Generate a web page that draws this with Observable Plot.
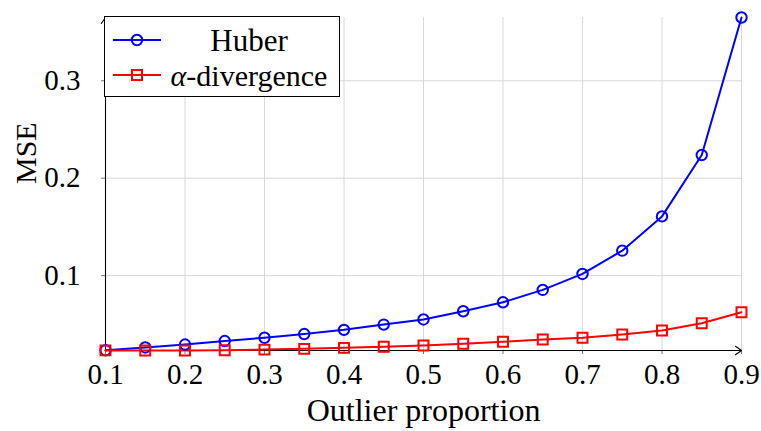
<!DOCTYPE html>
<html>
<head>
<meta charset="utf-8">
<script src="https://cdn.jsdelivr.net/npm/d3@7"></script>
<script src="https://cdn.jsdelivr.net/npm/@observablehq/plot@0.6"></script>
<style>
  html, body { margin: 0; padding: 0; background: white; }
  #wrap { position: relative; width: 761px; height: 431px; font-family: "Liberation Serif", serif; }
  #legend { position: absolute; left: 104px; top: 16px; width: 236px; height: 81px; border: 1.2px solid black; background: white; box-sizing: border-box; }
</style>
</head>
<body>
<div id="wrap"></div>
<script>
// Data
const proportion = [0.1, 0.15, 0.2, 0.25, 0.3, 0.35, 0.4, 0.45, 0.5, 0.55, 0.6, 0.65, 0.7, 0.75, 0.8, 0.85, 0.9];
const huber = [0.0233, 0.0262, 0.0292, 0.0328, 0.0362, 0.0400, 0.0443, 0.0497, 0.0550, 0.0634, 0.0726, 0.0853, 0.1017, 0.1256, 0.1608, 0.2238, 0.3650];
const alphaDiv = [0.0232, 0.0231, 0.0231, 0.0234, 0.0240, 0.0248, 0.0258, 0.0269, 0.0282, 0.0300, 0.0320, 0.0344, 0.0362, 0.0395, 0.0436, 0.0510, 0.0624];
const seriesNames = ["Huber", "α-divergence"];
const seriesColors = ["#0000ff", "#ff0000"];
const xTicks = [0.1, 0.2, 0.3, 0.4, 0.5, 0.6, 0.7, 0.8, 0.9];
const yTicks = [0.1, 0.2, 0.3];
const xLabel = "Outlier proportion";
const yLabel = "MSE";

const rows = [];
proportion.forEach((p, i) => {
  rows.push({p, v: huber[i], s: seriesNames[0]});
  rows.push({p, v: alphaDiv[i], s: seriesNames[1]});
});
const hRows = rows.filter(d => d.s === seriesNames[0]);
const aRows = rows.filter(d => d.s === seriesNames[1]);

const xDom = [d3.min(proportion), d3.max(proportion)];
const yDom = [d3.min([...huber, ...alphaDiv]), d3.max([...huber, ...alphaDiv])];

const chart = Plot.plot({
  width: 761,
  height: 431,
  marginLeft: 105,
  marginRight: 20,
  marginTop: 17,
  marginBottom: 81,
  style: {fontFamily: "'Liberation Serif', serif", fontSize: "29px", background: "white", color: "black", overflow: "visible"},
  x: {domain: xDom},
  y: {domain: yDom},
  marks: [
    Plot.gridX(xTicks, {stroke: "#d8d8d8", strokeOpacity: 1, strokeWidth: 1}),
    Plot.gridY(yTicks, {stroke: "#d8d8d8", strokeOpacity: 1, strokeWidth: 1}),
    Plot.axisX(xTicks, {tickFormat: d3.format(".1f"), tickSize: 4, tickPadding: 9, label: null, stroke: "#777", fontSize: 29}),
    Plot.axisY(yTicks, {tickFormat: d3.format(".1f"), tickSize: 4, tickPadding: 21, label: null, stroke: "#777", fontSize: 29}),
    Plot.arrow([0], {x1: () => xDom[0], x2: () => xDom[1], y1: () => yDom[0], y2: () => yDom[0], stroke: "black", strokeWidth: 1.1, headLength: 10, headAngle: 70, bend: 0}),
    Plot.arrow([0], {x1: () => xDom[0], x2: () => xDom[0], y1: () => yDom[0], y2: () => yDom[1], stroke: "black", strokeWidth: 1.1, headLength: 10, headAngle: 70, bend: 0}),
    Plot.line(hRows, {x: "p", y: "v", stroke: seriesColors[0], strokeWidth: 2}),
    Plot.line(aRows, {x: "p", y: "v", stroke: seriesColors[1], strokeWidth: 2}),
    Plot.dot(hRows, {x: "p", y: "v", symbol: "circle", r: 5.2, stroke: seriesColors[0], fill: "none", strokeWidth: 2}),
    Plot.dot(aRows, {x: "p", y: "v", symbol: "square", r: 5.6, stroke: seriesColors[1], fill: "none", strokeWidth: 2}),
    Plot.text([xLabel], {frameAnchor: "bottom", dy: 70, fontSize: 32, fill: "black"}),
    Plot.text([yLabel], {frameAnchor: "left", dx: -79, rotate: -90, fontSize: 30, fill: "black"})
  ]
});

const wrap = document.getElementById("wrap");
wrap.appendChild(chart);

// Legend
const legend = document.createElement("div");
legend.id = "legend";
const ns = "http://www.w3.org/2000/svg";
const lsvg = document.createElementNS(ns, "svg");
lsvg.setAttribute("width", 234);
lsvg.setAttribute("height", 79);
lsvg.style.display = "block";
const rowY = [23, 58];
seriesNames.forEach((name, i) => {
  const y = rowY[i];
  const line = document.createElementNS(ns, "line");
  line.setAttribute("x1", 8); line.setAttribute("x2", 56);
  line.setAttribute("y1", y); line.setAttribute("y2", y);
  line.setAttribute("stroke", seriesColors[i]); line.setAttribute("stroke-width", 2);
  lsvg.appendChild(line);
  let m;
  if (i === 0) {
    m = document.createElementNS(ns, "circle");
    m.setAttribute("cx", 32); m.setAttribute("cy", y); m.setAttribute("r", 5.2);
  } else {
    m = document.createElementNS(ns, "rect");
    m.setAttribute("x", 32 - 5); m.setAttribute("y", y - 5);
    m.setAttribute("width", 10); m.setAttribute("height", 10);
  }
  m.setAttribute("fill", "none"); m.setAttribute("stroke", seriesColors[i]); m.setAttribute("stroke-width", 2);
  lsvg.appendChild(m);
  const t = document.createElementNS(ns, "text");
  t.setAttribute("x", 144); t.setAttribute("y", y); t.setAttribute("dy", "0.35em");
  t.setAttribute("text-anchor", "middle");
  t.setAttribute("font-family", "'Liberation Serif', serif");
  t.setAttribute("font-size", i === 0 ? 31 : 30);
  if (name.startsWith("α")) {
    const a = document.createElementNS(ns, "tspan");
    a.setAttribute("font-style", "italic");
    a.textContent = "α";
    t.appendChild(a);
    t.appendChild(document.createTextNode(name.slice(1)));
  } else {
    t.textContent = name;
  }
  lsvg.appendChild(t);
});
legend.appendChild(lsvg);
wrap.appendChild(legend);
</script>
</body>
</html>
